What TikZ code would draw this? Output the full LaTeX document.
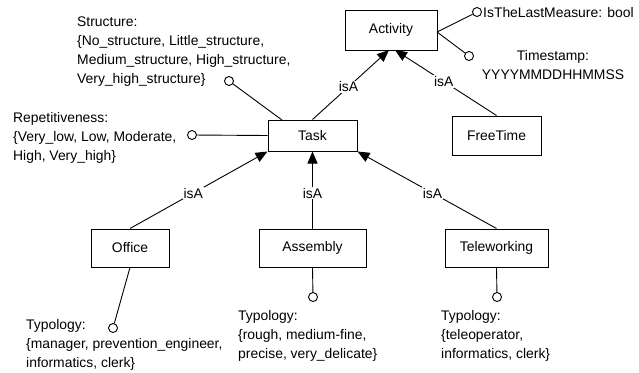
\documentclass[tikz,border=0pt]{standalone}
\usepackage{fontspec}
\setmainfont{Liberation Sans}
\usetikzlibrary{arrows.meta}
\tikzset{
  box/.style={draw, line width=1pt, inner sep=0pt, font=\fontsize{13.9}{19.3}\selectfont},
  attr/.style={circle, draw, fill=white, minimum size=9pt, inner sep=0pt, line width=0.9pt},
  conn/.style={line width=0.9pt},
  isa/.style={line width=0.9pt, -{Triangle[length=12pt,width=10pt]}},
  isalabel/.style={fill=white, inner sep=1pt, font=\fontsize{13.9}{19.3}\selectfont},
  txt/.style={align=left, anchor=base west, inner sep=0pt, font=\fontsize{13.9}{19.3}\selectfont},
  ctxt/.style={align=center, anchor=base, inner sep=0pt, font=\fontsize{13.9}{19.3}\selectfont}
}
\begin{document}
\begin{tikzpicture}[x=1pt, y=-1pt]
\useasboundingbox (0,0) rectangle (639,372);
% boxes
\node[box, minimum width=92pt, minimum height=40pt] (act) at (391,30) {Activity};
\node[box, minimum width=89pt, minimum height=31pt] (task) at (312.5,135.5) {Task};
\node[box, minimum width=89pt, minimum height=39pt] (ft) at (496.5,135.5) {FreeTime};
\node[box, minimum width=78pt, minimum height=38pt] (office) at (130,248) {Office};
\node[box, minimum width=107pt, minimum height=38pt] (asm) at (312.5,248) {Assembly};
\node[box, minimum width=103pt, minimum height=38pt] (tele) at (496.5,248) {Teleworking};
% attribute circles
\node[attr] (cLast) at (477,12) {};
\node[attr] (cTime) at (469,56) {};
\node[attr] (cStruct) at (229,81) {};
\node[attr] (cRep) at (192,135) {};
\node[attr] (cOff) at (113,328) {};
\node[attr] (cAsm) at (313,297) {};
\node[attr] (cTele) at (497,297) {};
\coordinate (actR) at (437,32);
\coordinate (actB1) at (389,50);
\coordinate (actB2) at (395,50);
\coordinate (taskT) at (282,120);
% attribute texts (anchor = baseline of the last line)
\node[txt] (tLast) at (483,17) {IsTheLastMeasure: bool};
\node[ctxt] (tTime) at (553,79.3) {Timestamp:\\YYYYMMDDHHMMSS};
\node[txt] (tStruct) at (77,83.9) {Structure:\\\{No\_structure, Little\_structure,\\Medium\_structure, High\_structure,\\Very\_high\_structure\}};
\node[txt] (tRep) at (13,160.6) {Repetitiveness:\\\{Very\_low, Low, Moderate,\\High, Very\_high\}};
\node[txt] (tOff) at (26,367.6) {Typology:\\\{manager, prevention\_engineer,\\informatics, clerk\}};
\node[txt] (tAsm) at (238,358.6) {Typology:\\\{rough, medium-fine,\\precise, very\_delicate\}};
\node[txt] (tTele) at (441,358.6) {Typology:\\\{teleoperator,\\informatics, clerk\}};
% attribute connectors
\draw[conn] (actR) -- (cLast);
\draw[conn] (actR) -- (cTime);
\draw[conn] (taskT) -- (cStruct);
\draw[conn] (task.west) -- (cRep);
\draw[conn] (office.south) -- (cOff);
\draw[conn] (asm.south) -- (cAsm);
\draw[conn] (tele.south) -- (cTele);
% isA connectors
\draw[isa] (task.north) -- node[isalabel, pos=0.47] {isA} (actB1);
\draw[isa] (ft.north) -- node[isalabel, pos=0.52] {isA} (actB2);
\draw[isa] (office.north) -- node[isalabel, pos=0.46] {isA} (task.south west);
\draw[isa] (asm.north) -- node[isalabel, pos=0.46] {isA} (task.south);
\draw[isa] (tele.north) -- node[isalabel, pos=0.46] {isA} (task.south east);
\end{tikzpicture}
\end{document}
